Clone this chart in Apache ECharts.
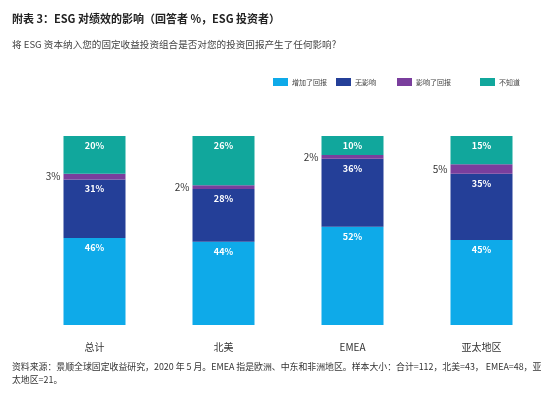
<!DOCTYPE html>
<html>
<head>
<meta charset="utf-8">
<script src="https://cdn.jsdelivr.net/npm/echarts@6/dist/echarts.min.js"></script>
<style>
  html, body { margin: 0; padding: 0; background: #fff; }
  #chart { width: 553px; height: 397px; }
</style>
</head>
<body>
<div id="chart"></div>
<script>
var categories = ['总计', '北美', 'EMEA', '亚太地区'];
var seriesNames = ['增加了回报', '无影响', '影响了回报', '不知道'];
var increased = [46, 44, 52, 45];
var noImpact = [31, 28, 36, 35];
var hurt = [3, 2, 2, 5];
var unknown = [20, 26, 10, 15];

var colors = ['#0eaae9', '#243f98', '#7a3e9d', '#11a79c'];
var font = '"Noto Sans CJK SC", "Noto Sans", sans-serif';

var chartDom = document.getElementById('chart');
var chart = echarts.init(chartDom);

var insideLabel = {
  show: true,
  position: 'insideTop',
  distance: 5,
  color: '#fff',
  fontSize: 9,
  fontWeight: 'bold',
  fontFamily: font,
  formatter: '{c}%'
};

function makeSeries(name, data, color, label) {
  return {
    name: name,
    type: 'bar',
    stack: 'total',
    barWidth: 62,
    data: data,
    itemStyle: { color: color },
    label: label
  };
}

// legend items sit at uneven spots in the original, so one legend per item
var legendLefts = [268, 331, 392, 475];
var legends = seriesNames.map(function (n, i) {
  return {
    data: [n],
    left: legendLefts[i],
    top: 73,
    itemWidth: 15,
    itemHeight: 8,
    itemGap: 0,
    selectedMode: false,
    icon: 'rect',
    textStyle: { fontSize: 7, color: '#444', fontFamily: font, padding: [0, 0, 0, -1] }
  };
});

var option = {
  animation: false,
  color: colors,
  title: [
    {
      text: '附表 3：ESG 对绩效的影响（回答者 %，ESG 投资者）',
      left: 7,
      top: 8,
      textStyle: { fontSize: 11, fontWeight: 'bold', color: '#222', fontFamily: font }
    },
    {
      text: '将 ESG 资本纳入您的固定收益投资组合是否对您的投资回报产生了任何影响?',
      left: 7,
      top: 35,
      textStyle: { fontSize: 9.6, fontWeight: 'normal', color: '#444', fontFamily: font }
    },
    {
      text: '资料来源：景顺全球固定收益研究，2020 年 5 月。EMEA 指是欧洲、中东和非洲地区。样本大小：合计=112，北美=43， EMEA=48，亚\n太地区=21。',
      left: 7,
      top: 355,
      textStyle: { fontSize: 8.9, fontWeight: 'normal', color: '#333', fontFamily: font, lineHeight: 13 }
    }
  ],
  legend: legends,
  grid: { left: 30, right: 7, top: 136, bottom: 72 },
  xAxis: {
    type: 'category',
    data: categories,
    axisLine: { show: false },
    axisTick: { show: false },
    axisLabel: { margin: 17, fontSize: 10, color: '#333', fontFamily: font }
  },
  yAxis: {
    type: 'value',
    min: 0,
    max: 100,
    show: false
  },
  series: [
    makeSeries(seriesNames[0], increased, colors[0], insideLabel),
    makeSeries(seriesNames[1], noImpact, colors[1], insideLabel),
    makeSeries(seriesNames[2], hurt, colors[2], {
      show: true,
      position: 'left',
      distance: 3,
      color: '#333',
      fontSize: 10,
      fontFamily: font,
      formatter: '{c}%'
    }),
    makeSeries(seriesNames[3], unknown, colors[3], insideLabel)
  ]
};

chart.setOption(option);

window.addEventListener('resize', function () {
  chart.resize();
});
</script>
</body>
</html>
